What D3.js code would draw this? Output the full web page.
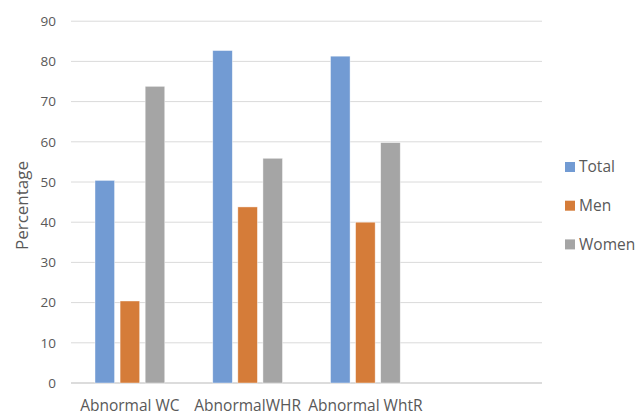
<!DOCTYPE html>
<html><head><meta charset="utf-8">
<script src="https://cdn.jsdelivr.net/npm/d3@7"></script>
<style>body{margin:0;background:#fff}svg{display:block}text{font-family:"Open Sans",sans-serif;fill:#595959}</style>
</head><body><svg id="c" width="637" height="416"></svg>
<script>
const categories = ["Abnormal WC", "AbnormalWHR", "Abnormal WhtR", ""];
const seriesNames = ["Total", "Men", "Women"];
const total = [50.4, 82.7, 81.3, null];
const men = [20.4, 43.8, 40.0, null];
const women = [73.8, 55.9, 59.8, null];
const yTicks = [0, 10, 20, 30, 40, 50, 60, 70, 80, 90];
const colors = ["#729BD3", "#D57C39", "#A5A5A5"];
const series = [total, men, women];

const svg = d3.select("#c");
const m = {l: 71, r: 542, t: 21.2, b: 383};
const x = d3.scaleBand().domain(categories).range([m.l, m.r]);
const y = d3.scaleLinear().domain([0, 90]).range([m.b, m.t]);
const inner = d3.scaleBand().domain(seriesNames).range([24, x.bandwidth() - 24]).paddingInner(0.22);

const grid = svg.append("g");
grid.selectAll("line").data(yTicks).join("line")
  .attr("x1", m.l).attr("x2", m.r)
  .attr("y1", d => y(d)).attr("y2", d => y(d))
  .attr("stroke", d => d === 0 ? "#D0D0D0" : "#DADADA")
  .attr("stroke-width", d => d === 0 ? 1.5 : 1);

const yAxis = svg.append("g").attr("transform", `translate(${m.l},0)`)
  .call(d3.axisLeft(y).tickValues(yTicks).tickSize(0).tickPadding(15));
yAxis.select(".domain").remove();
yAxis.selectAll("text").attr("font-size", 13.5).attr("font-family", "Open Sans").attr("fill", "#595959");

const groups = svg.append("g").selectAll("g").data(categories).join("g")
  .attr("transform", d => `translate(${x(d)},0)`);
groups.selectAll("rect").data((d, i) => seriesNames.map((s, j) => ({s, v: series[j][i], j})).filter(o => o.v != null))
  .join("rect")
  .attr("x", o => inner(o.s)).attr("width", inner.bandwidth())
  .attr("y", o => y(o.v)).attr("height", o => y(0) - y(o.v))
  .attr("fill", o => colors[o.j]).attr("stroke", "#fff").attr("stroke-width", 0.7).attr("stroke-opacity", 0.6);

const xAxis = svg.append("g").attr("transform", `translate(0,${m.b})`)
  .call(d3.axisBottom(x).tickSize(0).tickPadding(17));
xAxis.select(".domain").remove();
xAxis.selectAll("text").attr("font-size", 15.5).attr("font-family", "Open Sans").attr("fill", "#595959");

svg.append("text").attr("transform", "translate(22,205.5) rotate(-90)")
  .attr("text-anchor", "middle").attr("dy", "0.35em").attr("font-size", 17).text("Percentage");

const leg = svg.append("g").selectAll("g").data(seriesNames).join("g")
  .attr("transform", (d, i) => `translate(565,${167 + i * 38.7})`);
leg.append("rect").attr("x", 0).attr("y", -5).attr("width", 10).attr("height", 10).attr("fill", (d, i) => colors[i]);
leg.append("text").attr("x", 14).attr("dy", "0.35em").attr("font-size", 15.5).text(d => d);
</script></body></html>
